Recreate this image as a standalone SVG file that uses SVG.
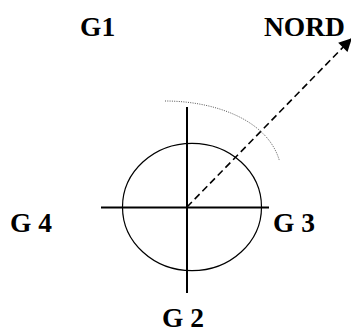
<svg xmlns="http://www.w3.org/2000/svg" width="351" height="327" viewBox="0 0 351 327">
<style>
.lbl{font-family:"Liberation Serif","Times New Roman",serif;font-weight:bold;font-size:27.5px;fill:#000}
.axis{stroke:#000;stroke-width:2;fill:none}
</style>
<defs>
<marker id="ah" viewBox="0 0 10 10" refX="9" refY="5" markerWidth="15" markerHeight="13" markerUnits="userSpaceOnUse" orient="auto">
<path d="M0,0 L10,5 L0,10 z" fill="#000"/>
</marker>
</defs>
<rect width="351" height="327" fill="#fff"/>
<g id="circle"><ellipse cx="192" cy="207" rx="69.5" ry="63.7" fill="none" stroke="#000" stroke-width="1.2"/></g>
<g id="connectors">
<line class="axis" x1="187" y1="107" x2="187" y2="293"/>
<line class="axis" x1="101" y1="207.5" x2="269" y2="207.5"/>
<line x1="187" y1="207" x2="351" y2="39" stroke="#000" stroke-width="1.6" stroke-dasharray="7,4" marker-end="url(#ah)"/>
<path d="M165,101 C215,101 268,120 279.5,161" fill="none" stroke="#555" stroke-width="1" stroke-dasharray="1,1.3"/>
</g>
<g id="G1"><text class="lbl" x="80" y="36">G1</text></g>
<g id="NORD"><text class="lbl" x="264" y="36">NORD</text></g>
<g id="G4"><text class="lbl" x="10" y="232">G 4</text></g>
<g id="G3"><text class="lbl" x="273" y="232">G 3</text></g>
<g id="G2"><text class="lbl" x="162" y="327">G 2</text></g>
</svg>
